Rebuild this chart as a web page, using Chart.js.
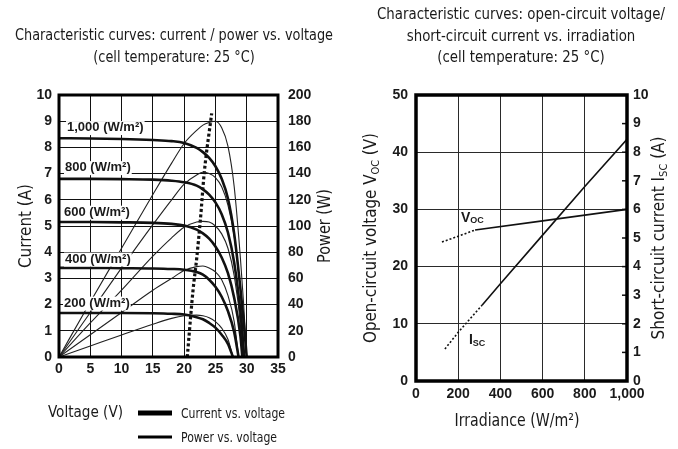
<!DOCTYPE html>
<html>
<head>
<meta charset="utf-8">
<script src="https://cdn.jsdelivr.net/npm/chart.js@4.4.1/dist/chart.umd.min.js"></script>
<style>
  html, body { margin: 0; padding: 0; background: #fff; }
  #wrap { position: relative; width: 678px; height: 449px; overflow: hidden; }
  canvas { position: absolute; top: 0; }
  #ivChart { left: 0; }
  #irrChart { left: 340px; }
</style>
</head>
<body>
<div id="wrap">
  <canvas id="ivChart" width="340" height="449"></canvas>
  <canvas id="irrChart" width="338" height="449"></canvas>
</div>
<script>
// ---------- I-V / P-V characteristic data (cell temperature 25 °C) ----------
const irradianceNames = ['1,000 (W/m²)', '800 (W/m²)', '600 (W/m²)', '400 (W/m²)', '200 (W/m²)'];

const voltage1000 = [0, 5, 10, 15, 18, 20, 22, 23, 24, 25, 26, 27, 28, 29, 29.5, 30];
const current1000 = [8.35, 8.34, 8.32, 8.28, 8.24, 8.17, 7.98, 7.82, 7.6, 7.28, 6.8, 6.05, 4.7, 2.6, 1.4, 0];
const power1000   = [0, 42, 83, 124, 148, 163, 173, 177, 179, 180, 175, 161, 130, 75, 41, 0];

const voltage800 = [0, 5, 10, 15, 18, 20, 22, 23, 24, 25, 26, 27, 28, 29, 29.6];
const current800 = [6.8, 6.8, 6.79, 6.77, 6.73, 6.67, 6.54, 6.4, 6.2, 5.9, 5.45, 4.75, 3.6, 1.7, 0];
const power800   = [0, 34, 68, 101, 120, 132, 139, 141, 140, 137, 130, 116, 92, 50, 0];

const voltage600 = [0, 5, 10, 15, 18, 20, 22, 23, 24, 25, 26, 27, 28, 29, 29.3];
const current600 = [5.15, 5.15, 5.14, 5.12, 5.08, 5.02, 4.86, 4.72, 4.52, 4.22, 3.8, 3.2, 2.25, 0.8, 0];
const power600   = [0, 26, 51, 77, 91, 99, 103, 103.5, 103, 100, 94, 83, 62, 24, 0];

const voltage400 = [0, 5, 10, 15, 18, 20, 22, 23, 24, 25, 26, 27, 28, 28.7];
const current400 = [3.4, 3.4, 3.39, 3.38, 3.36, 3.33, 3.24, 3.14, 2.95, 2.68, 2.3, 1.75, 0.95, 0];
const power400   = [0, 17, 34, 51, 60, 66, 69, 69.5, 68, 65, 59, 47, 27, 0];

const voltage200 = [0, 5, 10, 15, 18, 20, 22, 23, 24, 25, 26, 27, 27.8];
const current200 = [1.68, 1.68, 1.68, 1.67, 1.65, 1.62, 1.52, 1.44, 1.3, 1.12, 0.85, 0.5, 0];
const power200   = [0, 8.4, 16.8, 25, 29.5, 31.5, 32, 31.5, 30, 27, 22, 13.5, 0];

// maximum power point track
const mppVoltage = [20.5, 21.4, 22.0, 22.6, 23.2, 24.4];
const mppPower   = [0, 50, 75, 105, 140, 186];

// ---------- Voc / Isc vs. irradiance ----------
const vocIrrLow  = [123, 200, 280];
const vocLow     = [24.3, 25.3, 26.4];
const vocIrr     = [280, 600, 1000];
const vocValues  = [26.4, 28.0, 30.0];

const iscIrrLow  = [137, 200, 313];
const iscLow     = [1.12, 1.7, 2.65];
const iscIrr     = [313, 400, 600, 800, 1000];
const iscValues  = [2.65, 3.4, 5.1, 6.8, 8.45];

// ---------- styling ----------
const NARROW = "'DejaVu Sans Condensed', 'Open Sans', sans-serif";
const SANS = "'Liberation Sans', Arial, sans-serif";
const INK = '#1a1a1a';
const tickFont = { family: SANS, size: 14, weight: 'bold' };

Chart.defaults.font.family = SANS;
Chart.defaults.color = INK;

const pts = (xs, ys) => xs.map((x, i) => ({ x, y: ys[i] }));

function richWidth(ctx, parts) {
  let w = 0;
  parts.forEach(p => { ctx.font = p.font; w += ctx.measureText(p.text).width; });
  return w;
}
// draws a run of text pieces (subscripts allowed); optional squeeze to a given width
function drawRich(ctx, parts, x, y, opt = {}) {
  ctx.save();
  ctx.translate(x, y);
  if (opt.rot) ctx.rotate(opt.rot);
  const w = richWidth(ctx, parts);
  const k = opt.width ? opt.width / w : (opt.squeeze || 1);
  ctx.scale(k, 1);
  let cx = opt.align === 'left' ? 0 : -w / 2;
  ctx.textBaseline = 'middle';
  ctx.textAlign = 'left';
  ctx.fillStyle = INK;
  parts.forEach(p => {
    ctx.font = p.font;
    ctx.fillText(p.text, cx, p.dy || 0);
    cx += ctx.measureText(p.text).width;
  });
  ctx.restore();
  return k;
}
// centred multi-line heading; the first line sets the squeeze for the whole block
function drawHeading(ctx, lines, cx, ys, font, firstWidth) {
  ctx.save();
  ctx.font = font;
  const k = firstWidth / ctx.measureText(lines[0]).width;
  ctx.restore();
  lines.forEach((t, i) => drawRich(ctx, [{ text: t, font }], cx, ys[i], { squeeze: k }));
}

// ---------- left chart: current / power vs. voltage ----------
const currentSets = [
  [voltage1000, current1000], [voltage800, current800], [voltage600, current600],
  [voltage400, current400], [voltage200, current200]
];
const powerSets = [
  [voltage1000, power1000], [voltage800, power800], [voltage600, power600],
  [voltage400, power400], [voltage200, power200]
];

const ivDatasets = [];
currentSets.forEach(([v, c], i) => ivDatasets.push({
  label: 'Current ' + irradianceNames[i], data: pts(v, c), yAxisID: 'y',
  borderColor: '#111', borderWidth: 2.6, pointRadius: 0, cubicInterpolationMode: 'monotone'
}));
powerSets.forEach(([v, p], i) => ivDatasets.push({
  label: 'Power ' + irradianceNames[i], data: pts(v, p), yAxisID: 'y1',
  borderColor: '#222', borderWidth: 1.1, pointRadius: 0, cubicInterpolationMode: 'monotone'
}));
ivDatasets.push({
  label: 'MPP', data: pts(mppVoltage, mppPower), yAxisID: 'y1',
  borderColor: '#111', borderWidth: 3.2, borderDash: [3, 2.4], borderCapStyle: 'butt',
  pointRadius: 0, cubicInterpolationMode: 'monotone'
});

// where each irradiance caption sits (volts, amps of its left/middle edge)
const captionAnchors = [[1.28, 8.76], [0.96, 7.23], [0.8, 5.53], [0.96, 3.74], [0.8, 2.06]];

const ivDecor = {
  id: 'ivDecor',
  afterDatasetsDraw(chart) {
    const { ctx, chartArea: a, scales } = chart;
    // irradiance captions on white boxes
    ctx.save();
    ctx.font = 'bold 13px ' + SANS;
    ctx.textBaseline = 'middle';
    ctx.textAlign = 'left';
    irradianceNames.forEach((t, i) => {
      const x = scales.x.getPixelForValue(captionAnchors[i][0]);
      const y = scales.y.getPixelForValue(captionAnchors[i][1]);
      const m = ctx.measureText(t);
      const asc = m.actualBoundingBoxAscent, desc = m.actualBoundingBoxDescent;
      ctx.fillStyle = '#fff';
      ctx.fillRect(x - 1, y - asc - 1, m.width + 2, asc + desc + 2);
      ctx.fillStyle = INK;
      ctx.fillText(t, x, y);
    });
    ctx.restore();
    // frame
    ctx.save();
    ctx.strokeStyle = '#000';
    ctx.lineWidth = 3;
    ctx.strokeRect(a.left, a.top, a.right - a.left, a.bottom - a.top);
    ctx.restore();
  },
  afterDraw(chart) {
    const { ctx, chartArea: a } = chart;
    drawHeading(ctx, ['Characteristic curves: current / power vs. voltage', '(cell temperature: 25 °C)'],
      174, [36, 58], '16px ' + NARROW, 318);
    const mid = (a.top + a.bottom) / 2;
    drawRich(ctx, [{ text: 'Current (A)', font: '17px ' + NARROW }], 27, mid, { rot: -Math.PI / 2, width: 84 });
    drawRich(ctx, [{ text: 'Power (W)', font: '17px ' + NARROW }], 326, mid, { rot: -Math.PI / 2, width: 74 });
    // legend row
    drawRich(ctx, [{ text: 'Voltage (V)', font: '16px ' + NARROW }], 48, 413, { align: 'left', width: 75 });
    ctx.save();
    ctx.strokeStyle = '#000';
    ctx.lineWidth = 5;
    ctx.beginPath(); ctx.moveTo(138, 413); ctx.lineTo(172, 413); ctx.stroke();
    ctx.lineWidth = 3;
    ctx.beginPath(); ctx.moveTo(138, 437); ctx.lineTo(172, 437); ctx.stroke();
    ctx.restore();
    const k = drawRich(ctx, [{ text: 'Current vs. voltage', font: '14px ' + NARROW }], 181, 414, { align: 'left', width: 104 });
    drawRich(ctx, [{ text: 'Power vs. voltage', font: '14px ' + NARROW }], 181, 438, { align: 'left', squeeze: k });
  }
};

new Chart(document.getElementById('ivChart'), {
  type: 'line',
  data: { datasets: ivDatasets },
  options: {
    responsive: false,
    devicePixelRatio: 1,
    animation: false,
    layout: { padding: { top: 95, bottom: 62, left: 0, right: 0 } },
    plugins: { legend: { display: false }, title: { display: false }, tooltip: { enabled: false } },
    scales: {
      x: {
        type: 'linear', min: 0, max: 35,
        ticks: { stepSize: 5, padding: 4, font: tickFont, color: INK },
        grid: { color: '#111', lineWidth: 1, drawTicks: false },
        border: { display: false },
        afterFit(s) { s.height = 30; }
      },
      y: {
        min: 0, max: 10,
        ticks: { stepSize: 1, padding: 7, font: tickFont, color: INK },
        grid: { color: '#111', lineWidth: 1, drawTicks: false },
        border: { display: false },
        afterFit(s) { s.width = 59; }
      },
      y1: {
        position: 'right', min: 0, max: 200,
        ticks: { stepSize: 20, padding: 10, font: tickFont, color: INK },
        grid: { drawOnChartArea: false, drawTicks: false },
        border: { display: false },
        afterFit(s) { s.width = 62; }
      }
    }
  },
  plugins: [ivDecor]
});

// ---------- right chart: Voc / Isc vs. irradiance ----------
const irrDecor = {
  id: 'irrDecor',
  afterDatasetsDraw(chart) {
    const { ctx, chartArea: a, scales } = chart;
    ctx.save();
    // short inward ticks on the current axis
    ctx.strokeStyle = '#111';
    ctx.lineWidth = 1.5;
    for (let v = 1; v < 10; v++) {
      const y = scales.y1.getPixelForValue(v);
      ctx.beginPath(); ctx.moveTo(a.right - 5, y); ctx.lineTo(a.right, y); ctx.stroke();
    }
    ctx.strokeStyle = '#000';
    ctx.lineWidth = 3.5;
    ctx.strokeRect(a.left, a.top, a.right - a.left, a.bottom - a.top);
    ctx.restore();
    // curve captions
    const vx = scales.x.getPixelForValue(213), vy = scales.y.getPixelForValue(28.5);
    drawRich(ctx, [
      { text: 'V', font: 'bold 14px ' + SANS },
      { text: 'OC', font: 'bold 9px ' + SANS, dy: 3 }
    ], vx, vy, { align: 'left' });
    const ix = scales.x.getPixelForValue(251), iy = scales.y1.getPixelForValue(1.43);
    drawRich(ctx, [
      { text: 'I', font: 'bold 14px ' + SANS },
      { text: 'SC', font: 'bold 9px ' + SANS, dy: 3 }
    ], ix, iy, { align: 'left' });
  },
  afterDraw(chart) {
    const { ctx, chartArea: a } = chart;
    drawHeading(ctx, ['Characteristic curves: open-circuit voltage/', 'short-circuit current vs. irradiation', '(cell temperature: 25 °C)'],
      181, [15, 37, 58], '16px ' + NARROW, 288);
    const mid = (a.top + a.bottom) / 2;
    drawRich(ctx, [
      { text: 'Open-circuit voltage V', font: '17px ' + NARROW },
      { text: 'OC', font: '11px ' + NARROW, dy: 4 },
      { text: ' (V)', font: '17px ' + NARROW }
    ], 32, mid, { rot: -Math.PI / 2, width: 210 });
    drawRich(ctx, [
      { text: 'Short-circuit current I', font: '17px ' + NARROW },
      { text: 'SC', font: '11px ' + NARROW, dy: 4 },
      { text: ' (A)', font: '17px ' + NARROW }
    ], 320, mid, { rot: -Math.PI / 2, width: 203 });
    drawRich(ctx, [{ text: 'Irradiance (W/m²)', font: '17px ' + NARROW }], 177, 422, { width: 125 });
  }
};

new Chart(document.getElementById('irrChart'), {
  type: 'line',
  data: {
    datasets: [
      { label: 'Voc (extrapolated)', data: pts(vocIrrLow, vocLow), yAxisID: 'y',
        borderColor: '#111', borderWidth: 1.6, borderDash: [2, 2], pointRadius: 0 },
      { label: 'Voc', data: pts(vocIrr, vocValues), yAxisID: 'y',
        borderColor: '#111', borderWidth: 1.6, pointRadius: 0 },
      { label: 'Isc (extrapolated)', data: pts(iscIrrLow, iscLow), yAxisID: 'y1',
        borderColor: '#111', borderWidth: 1.6, borderDash: [2, 2], pointRadius: 0 },
      { label: 'Isc', data: pts(iscIrr, iscValues), yAxisID: 'y1',
        borderColor: '#111', borderWidth: 1.6, pointRadius: 0 }
    ]
  },
  options: {
    responsive: false,
    devicePixelRatio: 1,
    animation: false,
    layout: { padding: { top: 95, bottom: 40, left: 0, right: 0 } },
    plugins: { legend: { display: false }, title: { display: false }, tooltip: { enabled: false } },
    scales: {
      x: {
        type: 'linear', min: 0, max: 1000,
        ticks: { stepSize: 200, padding: 5, font: tickFont, color: INK },
        grid: { color: '#2a2a2a', lineWidth: 1, drawTicks: false },
        border: { display: false },
        afterFit(s) { s.height = 28; }
      },
      y: {
        min: 0, max: 50,
        ticks: { stepSize: 10, padding: 8, font: tickFont, color: INK },
        grid: { color: '#2a2a2a', lineWidth: 1, drawTicks: false },
        border: { display: false },
        afterFit(s) { s.width = 76; }
      },
      y1: {
        position: 'right', min: 0, max: 10,
        ticks: { stepSize: 1, padding: 6, font: tickFont, color: INK },
        grid: { drawOnChartArea: false, drawTicks: false },
        border: { display: false },
        afterFit(s) { s.width = 51; }
      }
    }
  },
  plugins: [irrDecor]
});
</script>
</body>
</html>
